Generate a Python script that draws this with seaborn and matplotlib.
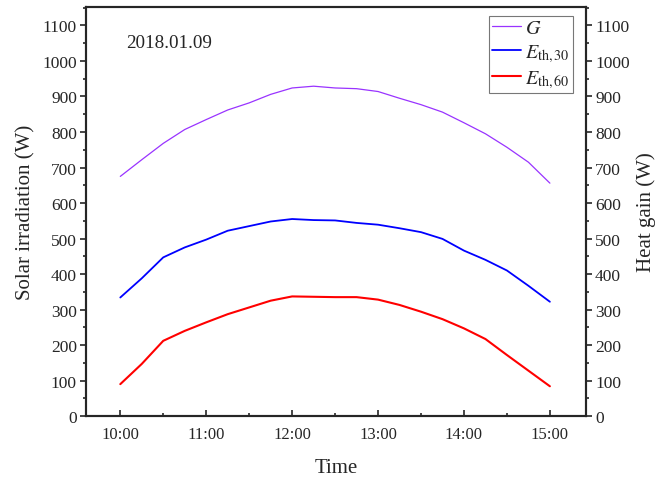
import numpy as np
import pandas as pd
import seaborn as sns
import matplotlib.pyplot as plt
from matplotlib.ticker import MultipleLocator

## data (15 min steps) ------------------------------------------------------------

hours = [10.0, 10.25, 10.5, 10.75, 11.0, 11.25, 11.5, 11.75, 12.0, 12.25, 12.5,
         12.75, 13.0, 13.25, 13.5, 13.75, 14.0, 14.25, 14.5, 14.75, 15.0]
G = [675, 722, 768, 807, 835, 862, 882, 906, 924, 929, 924,
     922, 914, 895, 877, 856, 826, 795, 757, 715, 656]
E30 = [334, 388, 447, 475, 497, 522, 535, 548, 555, 552, 551,
       544, 539, 529, 518, 499, 466, 440, 410, 367, 322]
E60 = [90, 147, 212, 240, 264, 287, 306, 325, 337, 336, 335,
       335, 328, 313, 294, 273, 247, 217, 172, 128, 84]

tick_hours = [10, 11, 12, 13, 14, 15]
tick_labels = ['10:00', '11:00', '12:00', '13:00', '14:00', '15:00']
date_text = '2018.01.09'

df = pd.DataFrame({'hour': hours, 'G': G, 'E30': E30, 'E60': E60})

## style ----------------------------------------------------------------------------

sns.set_style('ticks')
plt.rcParams['font.family'] = ['Liberation Serif', 'DejaVu Serif']
plt.rcParams['mathtext.fontset'] = 'stix'
plt.rcParams['axes.linewidth'] = 1.5

f = plt.figure(figsize=(6.61, 4.85), dpi=100)
ax = f.add_axes([0.130, 0.140, 0.7565, 0.8435])

sns.lineplot(data=df, x='hour', y='G', color='#9933ff', lw=0.9, label=r'$G$', ax=ax)
sns.lineplot(data=df, x='hour', y='E30', color='#0000ff', lw=1.3, label=r'$E_{\mathrm{th,30}}$', ax=ax)
sns.lineplot(data=df, x='hour', y='E60', color='#ff0000', lw=1.5, label=r'$E_{\mathrm{th,60}}$', ax=ax)

ax.set_xlim(9.6, 15.42)
ax.set_ylim(0, 1152)
ax.set_xticks(tick_hours)
ax.set_xticklabels(tick_labels)
ax.xaxis.set_minor_locator(MultipleLocator(0.5))
ax.yaxis.set_major_locator(MultipleLocator(100))
ax.yaxis.set_minor_locator(MultipleLocator(50))
ax.tick_params(axis='x', which='both', direction='in', labelsize=12, pad=7)
ax.tick_params(axis='x', which='major', length=4.5, width=1.2)
ax.tick_params(axis='x', which='minor', length=2.5, width=1.2)
ax.tick_params(axis='y', which='both', direction='out', labelsize=12.5, width=1.2, pad=2)
ax.tick_params(axis='y', which='major', length=4.5)
ax.tick_params(axis='y', which='minor', length=2.5)
ax.set_xlabel('Time', fontsize=15, labelpad=12)
ax.set_ylabel('Solar irradiation (W)', fontsize=15, labelpad=5)

ax.text(10.07, 1051, date_text, fontsize=13.8, va='center', ha='left')

leg = ax.legend(loc='upper right', bbox_to_anchor=(0.974, 0.978), borderaxespad=0,
                fontsize=14.5, frameon=True, fancybox=False,
                edgecolor='#555555', handlelength=1.45, handletextpad=0.2,
                borderpad=0.15, labelspacing=0.2)
leg.get_frame().set_linewidth(0.8)

ax2 = ax.twinx()
ax2.set_ylim(0, 1152)
ax2.yaxis.set_major_locator(MultipleLocator(100))
ax2.yaxis.set_minor_locator(MultipleLocator(50))
ax2.tick_params(axis='y', which='both', direction='out', labelsize=12.5, width=1.2, pad=2)
ax2.tick_params(axis='y', which='major', length=4.5)
ax2.tick_params(axis='y', which='minor', length=2.5)
ax2.set_ylabel('Heat gain (W)', fontsize=15, labelpad=5)

f.savefig('out.png', dpi=100)
